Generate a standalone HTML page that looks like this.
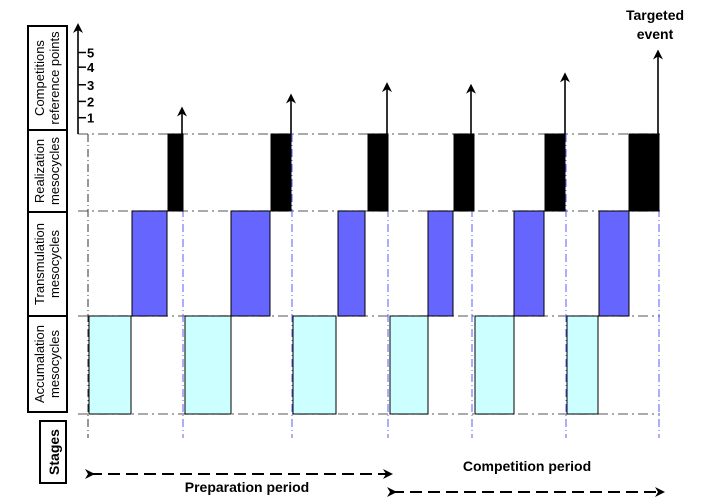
<!DOCTYPE html>
<html><head><meta charset="utf-8"><style>
body{margin:0;background:#fff;}
svg{display:block;font-family:"Liberation Sans",Arial,sans-serif;}
</style></head><body>
<svg id="c" width="717" height="504" viewBox="0 0 717 504" xmlns="http://www.w3.org/2000/svg">
<defs><marker id="ah" markerWidth="10" markerHeight="10" refX="5" refY="5" orient="auto" markerUnits="userSpaceOnUse" viewBox="0 0 10 10"><path d="M0,0 L10,5 L0,10 L3,5 z" fill="#000"/></marker></defs>
<g>
<rect x="28" y="26" width="39" height="104" fill="#fff" stroke="#000" stroke-width="2"/>
<text transform="translate(44,78) rotate(-90)" text-anchor="middle" font-size="13">Competitions</text>
<text transform="translate(59,78) rotate(-90)" text-anchor="middle" font-size="13">reference points</text>
<rect x="28" y="130" width="39" height="82" fill="#fff" stroke="#000" stroke-width="2"/>
<text transform="translate(44,171) rotate(-90)" text-anchor="middle" font-size="13">Realization</text>
<text transform="translate(59,171) rotate(-90)" text-anchor="middle" font-size="13">mesocycles</text>
<rect x="28" y="212" width="39" height="104" fill="#fff" stroke="#000" stroke-width="2"/>
<text transform="translate(44,264) rotate(-90)" text-anchor="middle" font-size="13">Transmulation</text>
<text transform="translate(59,264) rotate(-90)" text-anchor="middle" font-size="13">mesocycles</text>
<rect x="28" y="316" width="39" height="96" fill="#fff" stroke="#000" stroke-width="2"/>
<text transform="translate(44,364) rotate(-90)" text-anchor="middle" font-size="13">Accumalation</text>
<text transform="translate(59,364) rotate(-90)" text-anchor="middle" font-size="13">mesocycles</text>
<rect x="40" y="421" width="26" height="62" fill="#fff" stroke="#000" stroke-width="2"/>
<text transform="translate(59,452) rotate(-90)" text-anchor="middle" font-size="14" font-weight="bold">Stages</text>
</g>
<g id="grid"></g>
<g id="bars"></g>
<g id="axis"></g>
<text x="655" y="20" text-anchor="middle" font-size="14" font-weight="bold">Targeted</text>
<text x="655" y="39" text-anchor="middle" font-size="14" font-weight="bold">event</text>
<line x1="90" y1="474" x2="388" y2="474" stroke="#000" stroke-width="2" stroke-dasharray="12,6" marker-start="url(#ah)" marker-end="url(#ah)"/>
<text x="247" y="492" text-anchor="middle" font-size="14" font-weight="bold">Preparation period</text>
<line x1="392" y1="492" x2="660" y2="492" stroke="#000" stroke-width="2" stroke-dasharray="12,6" marker-start="url(#ah)" marker-end="url(#ah)"/>
<text x="527" y="471" text-anchor="middle" font-size="14" font-weight="bold">Competition period</text>
</svg>
<script>
const stageBounds = [88, 183, 292, 388, 472, 566, 659];
const accumStart = [89, 185, 293, 390, 475, 567];
const accumEnd = [131, 231, 336, 428, 514, 598];
const transStart = [132, 231, 338, 428, 514, 599];
const transEnd = [167, 270, 365, 453, 544, 629];
const realStart = [168, 271, 368, 454, 545, 629];
const realEnd = [183, 291, 388, 474, 565, 659];
const compPoints = [1.5, 2.3, 3.0, 2.9, 3.6, 5.0];
const tickLabels = ["1", "2", "3", "4", "5"];
const tickValues = [1, 2, 3.02, 4.1, 5];

const NS = "http://www.w3.org/2000/svg";
const yPts = v => 134 - v * 16.3;
function mk(tag, attrs, parent){const e=document.createElementNS(NS,tag);for(const k in attrs)e.setAttribute(k,attrs[k]);parent.appendChild(e);return e;}
const grid=document.getElementById('grid'), bars=document.getElementById('bars'), axis=document.getElementById('axis');
[134,211,316,414].forEach(y=>{
  const l=mk('line',{x1:78,y1:y,x2:660,y2:y,stroke:'#777','stroke-width':1.2,'stroke-dasharray':'10,4,2,4'},grid);
  
  
});
stageBounds.forEach((x,i)=>{
  const l=mk('line',{x1:x,y1:134,x2:x,y2:438,stroke:i===0?'#333':'#5b5bff','stroke-width':1,'stroke-dasharray':'8,3,1,3'},grid);
  
  
});
function rows(starts, ends, y1, y2, fill, name){
  starts.forEach((s,i)=>{
    const r=mk('rect',{x:s,y:y1,width:ends[i]-s,height:y2-y1,fill:fill,stroke:'#000','stroke-width':1},bars);
    
    
  });
}
rows(accumStart,accumEnd,316,414,'#ccffff','accumulation-bar');
rows(transStart,transEnd,211,316,'#6666ff','transmulation-bar');
rows(realStart,realEnd,134,211,'#000','realization-bar');
compPoints.forEach((v,i)=>{
  const x=stageBounds[i+1]-1;
  const l=mk('line',{x1:x,y1:134,x2:x,y2:yPts(v)+2,stroke:'#000','stroke-width':1.6,'marker-end':'url(#ah)'},bars);
  
  
});
const ax=mk('line',{x1:78,y1:134,x2:78,y2:28,stroke:'#000','stroke-width':1.6,'marker-end':'url(#ah)'},axis);


tickValues.forEach((v,i)=>{
  const y=yPts(v);
  const t=mk('line',{x1:78,y1:y,x2:86,y2:y,stroke:'#000','stroke-width':1.5},axis);
  
  
  const tx=mk('text',{x:87,y:y+5,'font-size':13,'font-weight':'bold'},axis);
  tx.textContent=tickLabels[i];
  
  
});
</script>
</body></html>
